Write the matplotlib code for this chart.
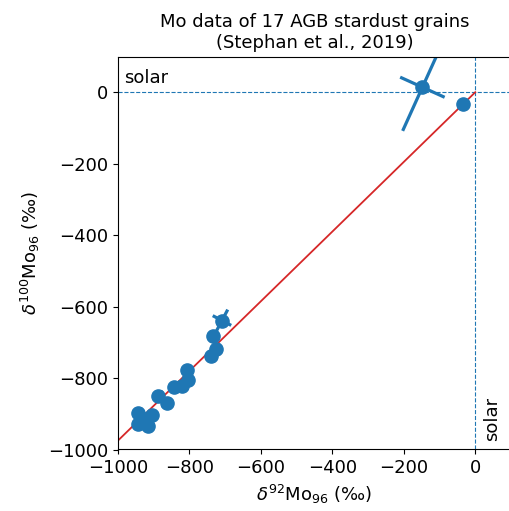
import matplotlib
matplotlib.use("Agg")
import matplotlib.pyplot as plt
import numpy as np

plt.rcParams['font.size'] = 13

# delta values (permil) relative to solar, 1-sigma errors and error correlation
d92 = np.array([-943, -906, -925, -943, -915,
                -887, -864,
                -843, -820, -803, -807,
                -740, -725, -733,
                -709, -148, -34])
d100 = np.array([-898, -903, -916, -930, -935,
                 -849, -870,
                 -826, -822, -805, -778,
                 -737, -719, -682,
                 -639, 14, -34])
err92 = np.array([12, 12, 12, 12, 12, 12, 12, 12, 12, 12, 12,
                  12, 12, 12, 26, 79, 10])
err100 = np.array([12, 12, 12, 12, 12, 12, 12, 12, 12, 12, 12,
                   12, 12, 12, 29, 121, 10])
rho = np.array([0.3, 0.3, 0.3, 0.3, 0.3, 0.3, 0.3, 0.3, 0.3, 0.3, 0.3,
                0.3, 0.3, 0.3, 0.16, 0.50, 0.3])

slope = 0.975  # s-process mixing line through solar


def error_axes(ax, x, y, sx, sy, r, **kw):
    """Draw the principal axes of the 1-sigma error ellipse."""
    cov = np.array([[sx**2, r * sx * sy], [r * sx * sy, sy**2]])
    vals, vecs = np.linalg.eigh(cov)
    for v, vec in zip(vals, vecs.T):
        d = np.sqrt(v) * vec
        ax.plot([x - d[0], x + d[0]], [y - d[1], y + d[1]], **kw)


fig = plt.figure(figsize=(5.09, 5.11), dpi=100)
ax = fig.add_axes([118 / 509, 61 / 511, 393 / 509, 394 / 511])

ax.axhline(0, color='C0', ls='--', lw=0.8)
ax.axvline(0, color='C0', ls='--', lw=0.8)

xs = np.array([-1000, 0])
ax.plot(xs, slope * xs, color='tab:red', lw=1.3)

for x, y, sx, sy, r in zip(d92, d100, err92, err100, rho):
    error_axes(ax, x, y, sx, sy, r, color='C0', lw=2.3)
ax.plot(d92, d100, 'o', color='C0', ms=9.5)

ax.text(-982, 14, 'solar', va='bottom', ha='left')
ax.text(22, -975, 'solar', rotation=90, va='bottom', ha='left')

ax.set_xlim(-1000, 100)
ax.set_ylim(-1000, 100)
ax.set_aspect('equal')
ax.set_xticks(np.arange(-1000, 1, 200))
ax.set_yticks(np.arange(-1000, 1, 200))
ax.set_xlabel(r'$\delta^{92}$Mo$_{96}$ (‰)')
ax.set_ylabel(r'$\delta^{100}$Mo$_{96}$ (‰)')
ax.set_title('Mo data of 17 AGB stardust grains\n(Stephan et al., 2019)',
             fontsize=13)

fig.savefig('out.png', dpi=100)
